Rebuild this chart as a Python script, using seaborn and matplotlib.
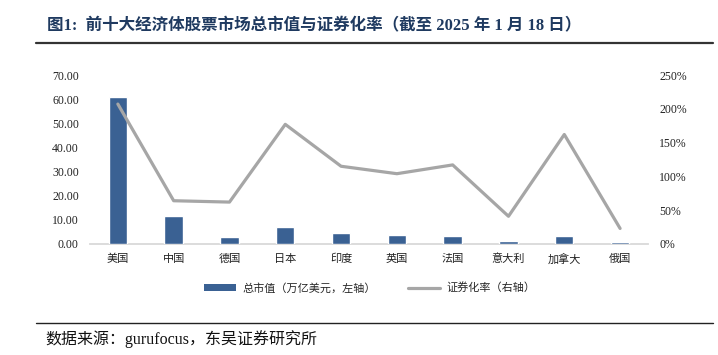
import numpy as np
import pandas as pd
import matplotlib
matplotlib.use("Agg")
import matplotlib.pyplot as plt
import seaborn as sns
from matplotlib.patches import Patch
from matplotlib.lines import Line2D
from matplotlib.ticker import FuncFormatter

# data
countries = ["美国", "中国", "德国", "日本", "印度", "英国", "法国", "意大利", "加拿大", "俄国"]
market_cap = [60.9, 11.7, 2.9, 7.0, 4.5, 3.6, 3.5, 1.1, 3.4, 0.7]      # 万亿美元
securitization = [207, 64, 62, 177, 115, 104, 117, 41, 162, 23]          # %

title = "图1:  前十大经济体股票市场总市值与证券化率（截至 2025 年 1 月 18 日）"
source = "数据来源：gurufocus，东吴证券研究所"
bar_label = "总市值（万亿美元，左轴）"
line_label = "证券化率（右轴）"

df = pd.DataFrame({"country": countries, "cap": market_cap, "rate": securitization})

sns.set_style("white")
FONTS = ["Liberation Serif", "Noto Sans CJK SC", "DejaVu Sans"]
plt.rcParams["font.family"] = FONTS

BAR_COLOR = "#3a6193"
LINE_COLOR = "#a6a6a6"

fig = plt.figure(figsize=(7.18, 3.55), dpi=100)
ax = fig.add_axes([0.1253, 0.3127, 0.7772, 0.476])

sns.barplot(data=df, x="country", y="cap", ax=ax, color=BAR_COLOR,
            width=0.33, saturation=1, zorder=3)
ax2 = ax.twinx()
sns.lineplot(data=df, x="country", y="rate", ax=ax2, color=LINE_COLOR,
             linewidth=2.3, sort=False)

ax.set_xlim(-0.5, len(countries) - 0.5)
ax.set_ylim(0, 70)
ax.set_yticks(np.arange(0, 71, 10))
ax.yaxis.set_major_formatter(FuncFormatter(lambda v, p: f"{v:.2f}"))
ax2.set_ylim(0, 250)
ax2.set_yticks(np.arange(0, 251, 50))
ax2.yaxis.set_major_formatter(FuncFormatter(lambda v, p: f"{v:.0f}%"))

for a in (ax, ax2):
    a.set_xlabel("")
    a.set_ylabel("")
    for s in ("top", "left", "right", "bottom"):
        a.spines[s].set_visible(False)
    a.grid(False)
ax.spines["bottom"].set_visible(True)
ax.spines["bottom"].set_color("#d9d9d9")
ax.spines["bottom"].set_linewidth(1.3)
ax.spines["bottom"].set_zorder(1)

ax.tick_params(axis="y", length=0, pad=8, labelsize=8.5, labelcolor="#222222")
ax2.tick_params(axis="y", length=0, pad=8, labelsize=8.5, labelcolor="#222222")
ax.tick_params(axis="x", length=0, pad=7, labelsize=8, labelcolor="#222222")

handles = [Patch(facecolor=BAR_COLOR, edgecolor="none"),
           Line2D([0], [0], color=LINE_COLOR, lw=2.3)]
fig.legend(handles, [bar_label, line_label], loc="center", ncol=2,
           bbox_to_anchor=(0.515, 0.189), frameon=False, fontsize=8,
           handlelength=2.9, handleheight=0.5, columnspacing=2.9,
           handletextpad=0.55)

fig.text(0.065, 0.925, title, fontsize=11.9, fontweight="bold",
         color="#1f3a60", va="center", ha="left")
fig.add_artist(Line2D([0.05, 0.993], [0.878, 0.878], color="#333333",
                      lw=1.6, transform=fig.transFigure))
fig.add_artist(Line2D([0.05, 0.993], [0.089, 0.089], color="#222222",
                      lw=1.0, transform=fig.transFigure))
fig.text(0.063, 0.044, source, fontsize=11.5, color="#111111",
         va="center", ha="left")

fig.savefig("out.png", dpi=100)
